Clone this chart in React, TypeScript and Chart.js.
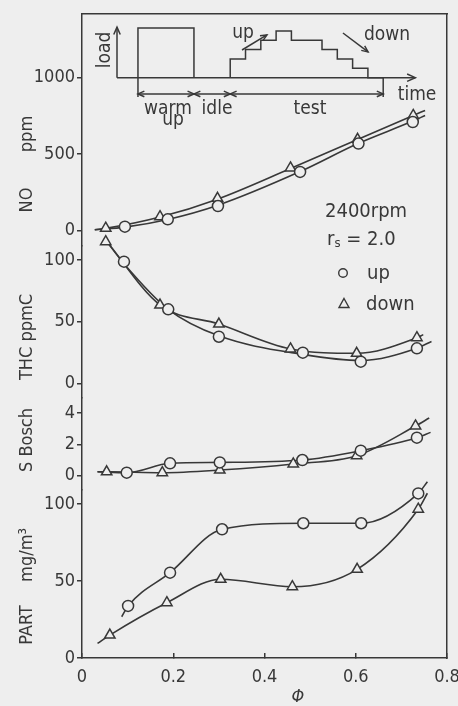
import React, { useEffect, useRef } from 'react';
import { Chart, registerables } from 'chart.js';

Chart.register(...registerables);

const BG = '#eeeeee';
const INK = '#383838';
const FONT = "'DejaVu Sans Condensed', 'DejaVu Sans', sans-serif";

// ---- axis ticks ----
const X_TICKS = [0, 0.2, 0.4, 0.6, 0.8];
const NO_TICKS = [0, 500, 1000];
const THC_TICKS = [0, 50, 100];
const SB_TICKS = [0, 2, 4];
const PART_TICKS = [0, 50, 100];

// ---- NO ppm ----
const NO_UP_X = [0.094, 0.188, 0.298, 0.478, 0.606, 0.725];
const NO_UP_Y = [25, 73, 160, 383, 568, 709];
const NO_DOWN_X = [0.052, 0.171, 0.297, 0.457, 0.604, 0.726];
const NO_DOWN_Y = [15, 90, 210, 409, 596, 752];
const NO_UP_LINE_X = [0.028, 0.094, 0.188, 0.298, 0.478, 0.606, 0.725, 0.752];
const NO_UP_LINE_Y = [5, 22, 72, 165, 385, 570, 715, 752];
const NO_DOWN_LINE_X = [0.028, 0.052, 0.171, 0.297, 0.457, 0.604, 0.726, 0.752];
const NO_DOWN_LINE_Y = [5, 14, 88, 205, 405, 595, 752, 785];

// ---- THC ppmC ----
const THC_UP_X = [0.092, 0.189, 0.3, 0.484, 0.611, 0.734];
const THC_UP_Y = [98.6, 60, 37.8, 24.9, 17.6, 28.4];
const THC_DOWN_X = [0.052, 0.171, 0.3, 0.457, 0.602, 0.734];
const THC_DOWN_Y = [114.8, 63.5, 48.1, 27.9, 24.4, 37];
const THC_UP_LINE_X = [0.05, 0.092, 0.189, 0.3, 0.484, 0.611, 0.734, 0.766];
const THC_UP_LINE_Y = [117, 97, 60, 38.5, 23.5, 18.5, 28.5, 34];
const THC_DOWN_LINE_X = [0.05, 0.171, 0.3, 0.457, 0.602, 0.734, 0.748];
const THC_DOWN_LINE_Y = [117, 63.5, 48.1, 27.9, 24.4, 37, 39.5];

// ---- S Bosch ----
const SB_UP_X = [0.098, 0.193, 0.302, 0.483, 0.611, 0.734];
const SB_UP_Y = [0.18, 0.78, 0.84, 0.99, 1.59, 2.42];
const SB_DOWN_X = [0.054, 0.176, 0.302, 0.463, 0.602, 0.731];
const SB_DOWN_Y = [0.24, 0.18, 0.35, 0.74, 1.27, 3.17];
const SB_UP_LINE_X = [0.034, 0.098, 0.193, 0.302, 0.483, 0.611, 0.734, 0.764];
const SB_UP_LINE_Y = [0.24, 0.18, 0.78, 0.84, 0.99, 1.59, 2.42, 2.76];
const SB_DOWN_LINE_X = [0.034, 0.054, 0.176, 0.302, 0.463, 0.602, 0.731, 0.761];
const SB_DOWN_LINE_Y = [0.24, 0.24, 0.18, 0.35, 0.74, 1.27, 3.17, 3.68];

// ---- PART mg/m3 ----
const PART_UP_X = [0.101, 0.193, 0.307, 0.485, 0.612, 0.737];
const PART_UP_Y = [33.8, 55.4, 83.6, 87.5, 87.5, 106.9];
const PART_DOWN_X = [0.061, 0.186, 0.304, 0.461, 0.603, 0.737];
const PART_DOWN_Y = [14.9, 35.9, 51.1, 46.3, 57.6, 96.6];
const PART_UP_LINE_X = [0.087, 0.101, 0.193, 0.307, 0.485, 0.612, 0.737, 0.757];
const PART_UP_LINE_Y = [26.8, 33.8, 55.4, 83.6, 87.5, 87.5, 106.9, 114.5];
const PART_DOWN_LINE_X = [0.034, 0.061, 0.186, 0.304, 0.461, 0.603, 0.737, 0.757];
const PART_DOWN_LINE_Y = [9.5, 14.9, 35.9, 51.1, 46.3, 57.6, 96.6, 107];

// ---- inset: load vs time schedule (schematic units) ----
const WARMUP_T = [1.37, 1.37, 5.03, 5.03];
const WARMUP_LOAD = [0, 5.3, 5.3, 0];
const TEST_T = [7.4, 7.4, 8.4, 9.4, 10.4, 11.4, 13.4, 14.4, 15.4, 16.4, 17.4];
const TEST_LOAD = [0, 1, 2, 3, 4, 5, 4, 3, 2, 1, 0];
const PHASE_BOUNDS = [1.37, 5.03, 7.4, 17.4];

const pts = (xs: number[], ys: number[]) => xs.map((x, i) => ({ x, y: ys[i] }));

const markers = (xs: number[], ys: number[], yAxisID: string, style: string) => ({
  data: pts(xs, ys),
  xAxisID: 'x',
  yAxisID,
  showLine: false,
  pointStyle: style,
  pointRadius: style === 'triangle' ? 6 : 5.5,
  pointBorderWidth: 1.5,
  pointBorderColor: INK,
  pointBackgroundColor: BG,
  clip: false,
  order: 0,
});

const curve = (xs: number[], ys: number[], yAxisID: string) => ({
  data: pts(xs, ys),
  xAxisID: 'x',
  yAxisID,
  showLine: true,
  pointRadius: 0,
  borderColor: INK,
  borderWidth: 1.6,
  cubicInterpolationMode: 'monotone',
  fill: false,
  clip: false,
  order: 1,
});

const insetLine = (xs: number[], ys: number[], stepped: any) => ({
  data: pts(xs, ys),
  xAxisID: 'ix',
  yAxisID: 'iy',
  showLine: true,
  pointRadius: 0,
  borderColor: INK,
  borderWidth: 1.5,
  stepped,
  tension: 0,
  fill: false,
  clip: false,
  order: 2,
});

const dataAxis = (ticks: number[], min: number, max: number, stackWeight: number, weight: number) => ({
  type: 'linear',
  axis: 'y',
  position: 'left',
  stack: 'data',
  stackWeight,
  weight,
  min,
  max,
  bounds: 'data',
  afterBuildTicks: (s: any) => {
    s.ticks = ticks.map((v) => ({ value: v }));
  },
  afterFit: (s: any) => {
    s.width = 50;
    s.paddingTop = 0;
    s.paddingBottom = 0;
  },
  ticks: { callback: (v: any) => String(v), color: INK, font: { size: 18 }, padding: 2, autoSkip: false },
  grid: { display: true, drawOnChartArea: false, drawTicks: true, tickLength: 5, color: INK, lineWidth: 1.5 },
  border: { display: true, color: INK, width: 1.5 },
});

const titleAxis = (text: string, stackWeight: number, weight: number) => ({
  type: 'linear',
  axis: 'y',
  position: 'left',
  stack: 'titles',
  stackWeight,
  weight,
  min: 0,
  max: 1,
  bounds: 'data',
  ticks: { display: false },
  grid: { display: false },
  border: { display: false },
  title: { display: text !== '', text, color: INK, font: { size: 18 }, padding: { top: 17, bottom: 0 } },
  afterFit: (s: any) => {
    s.width = 32;
    s.paddingTop = 0;
    s.paddingBottom = 0;
  },
});

function arrowHead(ctx: CanvasRenderingContext2D, x: number, y: number, a: number, size = 8) {
  ctx.beginPath();
  ctx.moveTo(x - size * Math.cos(a - 0.42), y - size * Math.sin(a - 0.42));
  ctx.lineTo(x, y);
  ctx.lineTo(x - size * Math.cos(a + 0.42), y - size * Math.sin(a + 0.42));
  ctx.stroke();
}

function seg(ctx: CanvasRenderingContext2D, x1: number, y1: number, x2: number, y2: number) {
  ctx.beginPath();
  ctx.moveTo(x1, y1);
  ctx.lineTo(x2, y2);
  ctx.stroke();
}

const annotate = {
  id: 'annotate',
  afterDatasetsDraw(chart: any) {
    const ctx: CanvasRenderingContext2D = chart.ctx;
    const ix = chart.scales.ix;
    const iy = chart.scales.iy;
    const X = (v: number) => ix.getPixelForValue(v);
    const Y = (v: number) => iy.getPixelForValue(v);
    ctx.save();
    ctx.strokeStyle = INK;
    ctx.fillStyle = INK;
    ctx.lineWidth = 1.5;
    // inset axes
    seg(ctx, X(0), Y(0), X(0), Y(5.4));
    arrowHead(ctx, X(0), Y(5.4), -Math.PI / 2, 8);
    seg(ctx, X(0), Y(0), X(19.5), Y(0));
    arrowHead(ctx, X(19.5), Y(0), 0, 9);
    // extension lines and dimension line
    seg(ctx, X(PHASE_BOUNDS[0]), Y(0), X(PHASE_BOUNDS[0]), Y(-2.06));
    seg(ctx, X(PHASE_BOUNDS[3]), Y(0), X(PHASE_BOUNDS[3]), Y(-2.06));
    for (let i = 0; i < PHASE_BOUNDS.length - 1; i++) {
      const a = X(PHASE_BOUNDS[i]);
      const b = X(PHASE_BOUNDS[i + 1]);
      const yy = Y(-1.74);
      seg(ctx, a, yy, b, yy);
      arrowHead(ctx, a, yy, Math.PI, 7);
      arrowHead(ctx, b, yy, 0, 7);
    }
    // up / down arrows
    seg(ctx, X(8.17), Y(2.96), X(9.8), Y(4.57));
    arrowHead(ctx, X(9.8), Y(4.57), Math.atan2(Y(4.57) - Y(2.96), X(9.8) - X(8.17)), 7);
    seg(ctx, X(14.77), Y(4.78), X(16.41), Y(2.75));
    arrowHead(ctx, X(16.41), Y(2.75), Math.atan2(Y(2.75) - Y(4.78), X(16.41) - X(14.77)), 7);
    // inset texts
    ctx.font = `19px ${FONT}`;
    ctx.textAlign = 'center';
    ctx.textBaseline = 'alphabetic';
    const texts: [string, number, number][] = [
      ['warm', 3.33, -3.92],
      ['up', 3.66, -5.1],
      ['idle', 6.54, -3.92],
      ['test', 12.61, -3.92],
      ['time', 19.61, -2.41],
      ['up', 8.24, 4.25],
      ['down', 17.65, 4.04],
    ];
    for (const [t, x, y] of texts) ctx.fillText(t, X(x), Y(y));
    ctx.save();
    ctx.translate(X(-0.46), Y(2.96));
    ctx.rotate(-Math.PI / 2);
    ctx.fillText('load', 0, 0);
    ctx.restore();

    // legend block
    const ca = chart.chartArea;
    const L = ca.left;
    const T = ca.top;
    ctx.textAlign = 'left';
    ctx.font = `20px ${FONT}`;
    ctx.fillText('2400rpm', L + 243, T + 203);
    let xx = L + 245;
    ctx.fillText('r', xx, T + 231);
    xx += ctx.measureText('r').width;
    ctx.font = `13px ${FONT}`;
    ctx.fillText('s', xx, T + 233);
    xx += ctx.measureText('s').width;
    ctx.font = `20px ${FONT}`;
    ctx.fillText(' = 2.0', xx, T + 231);
    ctx.fillText('up', L + 285, T + 265);
    ctx.fillText('down', L + 284, T + 296);
    ctx.lineWidth = 1.4;
    ctx.beginPath();
    ctx.arc(L + 261, T + 259, 4.3, 0, Math.PI * 2);
    ctx.stroke();
    const tx = L + 262;
    const ty = T + 290;
    ctx.beginPath();
    ctx.moveTo(tx, ty - 5.5);
    ctx.lineTo(tx + 5, ty + 3.5);
    ctx.lineTo(tx - 5, ty + 3.5);
    ctx.closePath();
    ctx.stroke();
    ctx.restore();
  },
};

export default function App() {
  const ref = useRef<HTMLCanvasElement>(null);
  useEffect(() => {
    Chart.defaults.font.family = FONT;
    Chart.defaults.color = INK;
    const chart = new Chart(ref.current as HTMLCanvasElement, {
      type: 'line',
      data: {
        datasets: [
          markers(NO_UP_X, NO_UP_Y, 'no', 'circle'),
          markers(NO_DOWN_X, NO_DOWN_Y, 'no', 'triangle'),
          markers(THC_UP_X, THC_UP_Y, 'thc', 'circle'),
          markers(THC_DOWN_X, THC_DOWN_Y, 'thc', 'triangle'),
          markers(SB_UP_X, SB_UP_Y, 'sb', 'circle'),
          markers(SB_DOWN_X, SB_DOWN_Y, 'sb', 'triangle'),
          markers(PART_UP_X, PART_UP_Y, 'part', 'circle'),
          markers(PART_DOWN_X, PART_DOWN_Y, 'part', 'triangle'),
          curve(NO_UP_LINE_X, NO_UP_LINE_Y, 'no'),
          curve(NO_DOWN_LINE_X, NO_DOWN_LINE_Y, 'no'),
          curve(THC_UP_LINE_X, THC_UP_LINE_Y, 'thc'),
          curve(THC_DOWN_LINE_X, THC_DOWN_LINE_Y, 'thc'),
          curve(SB_UP_LINE_X, SB_UP_LINE_Y, 'sb'),
          curve(SB_DOWN_LINE_X, SB_DOWN_LINE_Y, 'sb'),
          curve(PART_UP_LINE_X, PART_UP_LINE_Y, 'part'),
          curve(PART_DOWN_LINE_X, PART_DOWN_LINE_Y, 'part'),
          insetLine(WARMUP_T, WARMUP_LOAD, false),
          insetLine(TEST_T, TEST_LOAD, 'after'),
        ] as any,
      },
      options: {
        responsive: false,
        animation: false,
        events: [],
        layout: { padding: { top: 14, right: 11, bottom: 0, left: 0 } },
        plugins: { legend: { display: false }, tooltip: { enabled: false }, title: { display: false } },
        scales: {
          x: {
            type: 'linear',
            position: 'bottom',
            min: 0,
            max: 0.8,
            bounds: 'data',
            afterBuildTicks: (s: any) => {
              s.ticks = X_TICKS.map((v) => ({ value: v }));
            },
            afterFit: (s: any) => {
              s.height = 48;
              s.paddingLeft = 0;
              s.paddingRight = 0;
            },
            ticks: { callback: (v: any) => String(v), color: INK, font: { size: 18 }, padding: 14, maxRotation: 0, autoSkip: false },
            grid: { display: true, drawOnChartArea: false, drawTicks: true, tickLength: -5, color: INK, lineWidth: 1.5 },
            border: { display: true, color: INK, width: 1.5 },
            title: {
              display: true,
              text: '             Φ',
              color: INK,
              font: { size: 18, style: 'italic', lineHeight: 1 },
              padding: { top: 0, bottom: 0 },
            },
          },
          x2: {
            type: 'linear',
            axis: 'x',
            position: 'top',
            min: 0,
            max: 1,
            ticks: { display: false },
            grid: { display: false },
            border: { display: true, color: INK, width: 1.5 },
            afterFit: (s: any) => {
              s.height = 0;
              s.paddingLeft = 0;
              s.paddingRight = 0;
            },
          },
          y2: {
            type: 'linear',
            axis: 'y',
            position: 'right',
            min: 0,
            max: 1,
            ticks: { display: false },
            grid: { display: false },
            border: { display: true, color: INK, width: 1.5 },
            afterFit: (s: any) => {
              s.width = 0;
              s.paddingTop = 0;
              s.paddingBottom = 0;
            },
          },
          ix: { type: 'linear', axis: 'x', position: 'bottom', display: false, min: -2.288, max: 21.57, bounds: 'data' },
          iy: { type: 'linear', axis: 'y', position: 'left', display: false, min: -62.07, max: 6.81, bounds: 'data' },
          part: dataAxis(PART_TICKS, 0, 109.1, 168, 10),
          sb: dataAxis(SB_TICKS, -0.928, 4.96, 92, 11),
          thc: dataAxis(THC_TICKS, -11.83, 111.3, 152, 12),
          no: dataAxis(NO_TICKS, -101.3, 1415, 232, 13),
          t0: titleAxis('', 12, 100),
          t1: titleAxis('PART', 42, 101),
          t2: titleAxis('mg/m³', 98, 102),
          t3: titleAxis('S Bosch', 132, 103),
          t4: titleAxis('THC ppmC', 74, 104),
          t5: titleAxis('', 68, 105),
          t6: titleAxis('NO', 64, 106),
          t7: titleAxis('ppm', 68, 107),
          t8: titleAxis('', 86, 108),
        } as any,
      },
      plugins: [annotate],
    });
    return () => chart.destroy();
  }, []);
  return (
    <div style={{ position: 'fixed', left: 0, top: 0, width: 458, height: 706, background: BG }}>
      <canvas ref={ref} width={458} height={706} style={{ display: 'block', width: 458, height: 706 }} />
    </div>
  );
}
